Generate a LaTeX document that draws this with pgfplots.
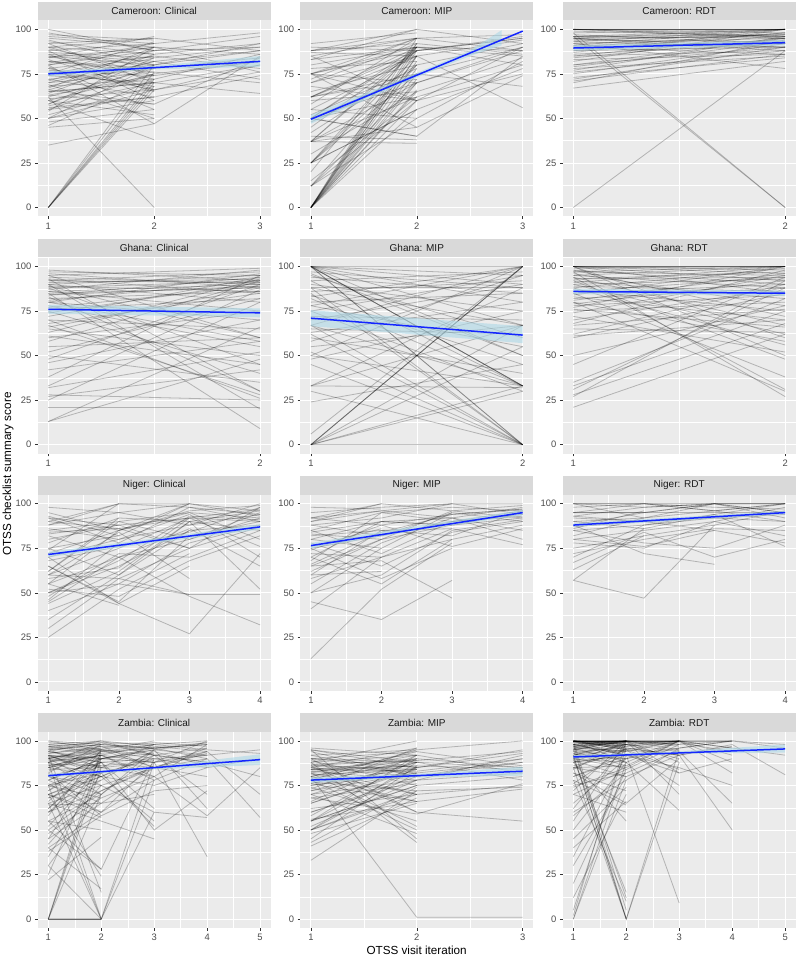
\documentclass[border=0pt]{standalone}
\usepackage{fontspec}
\setmainfont{Liberation Sans}
\usepackage{pgfplots}
\pgfplotsset{compat=1.18}

\definecolor{panelbg}{HTML}{EBEBEB}
\definecolor{stripbg}{HTML}{D9D9D9}
\definecolor{striptxt}{HTML}{1A1A1A}
\definecolor{ticktxt}{HTML}{4D4D4D}
\definecolor{tickcol}{HTML}{333333}
\definecolor{fitblue}{HTML}{1426FF}
\definecolor{bandcol}{HTML}{ADD8E6}

\pgfplotsset{
  panel/.style={
    scale only axis, width=233pt, height=196pt, anchor=north west,
    ymin=-5, ymax=105, ytick={0,25,50,75,100}, minor ytick={12.5,37.5,62.5,87.5},
    axis background/.style={fill=panelbg},
    axis line style={draw=none},
    grid=both,
    major grid style={white, line width=0.8pt},
    minor grid style={white, line width=0.4pt},
    tick pos=left, tick align=outside,
    major tick length=2.75pt, minor tick length=0pt,
    every tick/.style={tickcol, line width=0.5pt},
    tick label style={font=\fontsize{9.4}{10}\selectfont, text=ticktxt},
    /pgf/number format/assume math mode=true,
    every axis title/.style={at={(0.5,1)}, anchor=south, fill=stripbg,
      minimum width=233pt, minimum height=18.5pt, inner sep=0pt,
      font=\fontsize{10}{11}\selectfont, text=striptxt},
  },
  x2/.style={xmin=0.95, xmax=2.05, xtick={1,2}, minor xtick={1.5}},
  x3/.style={xmin=0.9, xmax=3.1, xtick={1,2,3}, minor xtick={1.5,2.5}},
  x4/.style={xmin=0.85, xmax=4.15, xtick={1,2,3,4}, minor xtick={1.5,2.5,3.5}},
  x5/.style={xmin=0.8, xmax=5.2, xtick={1,2,3,4,5}, minor xtick={1.5,2.5,3.5,4.5}},
  sp/.style={black, opacity=0.24, line width=0.8pt},
  fitl/.style={fitblue, line width=1.5pt},
  band/.style={fill=bandcol, draw=none, opacity=0.6},
}

% one facility trajectory over 2, 3, 4 or 5 visits
\newcommand\Pii[2]{\addplot[sp] coordinates {(1,#1)(2,#2)};}
\newcommand\Piii[3]{\addplot[sp] coordinates {(1,#1)(2,#2)(3,#3)};}
\newcommand\Piv[4]{\addplot[sp] coordinates {(1,#1)(2,#2)(3,#3)(4,#4)};}
\newcommand\Pv[5]{\addplot[sp] coordinates {(1,#1)(2,#2)(3,#3)(4,#4)(5,#5)};}
% fitted line from visit 1 to visit #1
\newcommand\Fit[3]{\addplot[fitl] coordinates {(1,#2)(#1,#3)};}
\newcommand\Band[1]{\addplot[band] coordinates {#1};}

\begin{document}
\begin{tikzpicture}
\useasboundingbox (0,0) rectangle (797pt,-958pt);

% ---------------- row 1: Cameroon
\begin{axis}[panel, x3, at={(37.7pt,-20.4pt)}, title={Cameroon: Clinical}]
\Piii{85}{80}{88}\Piii{72}{78}{84}\Piii{90}{86}{92}\Piii{65}{70}{80}\Piii{80}{88}{96}
\Piii{95}{90}{86}\Piii{60}{75}{82}\Piii{78}{66}{76}\Piii{88}{92}{98}\Piii{70}{84}{90}
\Piii{55}{62}{74}\Piii{82}{76}{70}\Piii{92}{95}{88}\Piii{68}{72}{86}\Piii{75}{85}{78}
\Piii{50}{66}{80}\Piii{86}{82}{72}\Piii{63}{58}{84}\Piii{98}{88}{90}\Piii{74}{70}{64}
\Piii{80}{47}{85}\Piii{58}{80}{92}\Piii{84}{90}{76}\Piii{66}{82}{88}\Piii{90}{74}{82}
\Pii{100}{88}\Pii{96}{92}\Pii{94}{80}\Pii{92}{70}\Pii{90}{95}\Pii{88}{60}\Pii{87}{84}
\Pii{85}{72}\Pii{84}{96}\Pii{83}{65}\Pii{82}{78}\Pii{80}{90}\Pii{79}{55}\Pii{78}{85}
\Pii{77}{74}\Pii{76}{68}\Pii{75}{93}\Pii{74}{80}\Pii{72}{62}\Pii{71}{88}\Pii{70}{76}
\Pii{69}{50}\Pii{68}{82}\Pii{67}{90}\Pii{66}{58}\Pii{65}{70}\Pii{64}{86}\Pii{63}{74}
\Pii{62}{78}\Pii{61}{66}\Pii{60}{52}\Pii{58}{84}\Pii{57}{70}\Pii{56}{62}\Pii{55}{75}
\Pii{54}{90}\Pii{52}{68}\Pii{50}{60}\Pii{50}{80}\Pii{48}{55}\Pii{46}{72}\Pii{45}{50}
\Pii{35}{47}\Pii{60}{38}\Pii{0}{72}\Pii{0}{76}\Pii{0}{80}\Pii{0}{70}\Pii{0}{68}
\Pii{0}{66}\Pii{62}{0}\Pii{97}{94}\Pii{93}{86}\Pii{89}{78}\Pii{86}{66}\Pii{81}{92}
\Band{(1,73.5)(2,77.5)(3,79)(3,85)(2,79.5)(1,76.5)}
\Fit{3}{75}{82}
\end{axis}

\begin{axis}[panel, x3, at={(300.3pt,-20.4pt)}, title={Cameroon: MIP}]
\Piii{50}{75}{90}\Piii{62}{88}{95}\Piii{75}{90}{85}\Piii{0}{70}{88}\Piii{25}{80}{92}
\Piii{37}{62}{80}\Piii{88}{95}{97}\Piii{12}{60}{75}\Piii{50}{40}{85}\Piii{62}{85}{56}
\Piii{75}{95}{88}\Piii{0}{85}{94}\Piii{83}{90}{80}\Piii{50}{70}{90}\Piii{37}{88}{95}
\Piii{25}{55}{78}\Piii{62}{75}{68}\Piii{0}{65}{84}\Piii{70}{92}{86}\Piii{12}{50}{82}
\Piii{88}{100}{92}\Piii{50}{88}{96}\Piii{75}{60}{90}\Piii{37}{45}{74}\Piii{25}{90}{88}
\Pii{92}{98}\Pii{90}{88}\Pii{88}{92}\Pii{87}{85}\Pii{85}{95}\Pii{83}{100}\Pii{80}{90}
\Pii{78}{82}\Pii{75}{88}\Pii{75}{70}\Pii{72}{95}\Pii{70}{85}\Pii{68}{60}\Pii{65}{80}
\Pii{62}{90}\Pii{62}{72}\Pii{60}{65}\Pii{58}{95}\Pii{55}{85}\Pii{52}{78}\Pii{50}{90}
\Pii{50}{62}\Pii{50}{40}\Pii{48}{75}\Pii{45}{88}\Pii{42}{80}\Pii{40}{38}\Pii{37}{90}
\Pii{37}{70}\Pii{37}{36}\Pii{30}{65}\Pii{25}{85}\Pii{25}{75}\Pii{25}{55}\Pii{20}{92}
\Pii{15}{62}\Pii{12}{80}\Pii{12}{70}\Pii{0}{95}\Pii{0}{90}\Pii{0}{88}\Pii{0}{82}
\Pii{0}{78}\Pii{0}{72}\Pii{0}{66}\Pii{0}{60}\Pii{0}{92}\Pii{0}{85}\Pii{0}{75}
\Pii{0}{55}\Pii{55}{50}\Pii{85}{60}\Pii{75}{45}
\Band{(1,47)(2,73)(2.5,85)(2.8,91)(2.8,99.5)(2.5,88)(2,75.5)(1,52)}
\Fit{3}{49.5}{99}
\end{axis}

\begin{axis}[panel, x2, at={(562.7pt,-20.4pt)}, title={Cameroon: RDT}]
\Pii{100}{100}\Pii{100}{100}\Pii{100}{100}\Pii{100}{96}\Pii{100}{95}\Pii{98}{100}
\Pii{97}{92}\Pii{96}{100}\Pii{96}{95}\Pii{95}{90}\Pii{95}{88}\Pii{94}{97}\Pii{93}{100}
\Pii{92}{95}\Pii{91}{92}\Pii{90}{86}\Pii{90}{98}\Pii{89}{94}\Pii{88}{90}\Pii{87}{100}
\Pii{86}{92}\Pii{85}{88}\Pii{84}{95}\Pii{83}{86}\Pii{82}{100}\Pii{80}{90}\Pii{79}{93}
\Pii{78}{85}\Pii{77}{96}\Pii{76}{88}\Pii{75}{92}\Pii{73}{84}\Pii{72}{90}\Pii{71}{86}
\Pii{70}{94}\Pii{67}{82}\Pii{92}{78}\Pii{98}{0}\Pii{96}{0}\Pii{0}{88}\Pii{100}{98}
\Pii{99}{96}\Pii{95}{100}\Pii{85}{97}\Pii{88}{98}\Pii{93}{90}\Pii{90}{92}\Pii{80}{95}
\Pii{91}{100}\Pii{96}{97}\Pii{94}{93}\Pii{100}{100}\Pii{95}{96}
\Band{(1,88)(2,91)(2,94)(1,91)}
\Fit{2}{89.5}{92.5}
\end{axis}

% ---------------- row 2: Ghana
\begin{axis}[panel, x2, at={(37.7pt,-257.6pt)}, title={Ghana: Clinical}]
\Pii{98}{92}\Pii{97}{95}\Pii{96}{88}\Pii{95}{99}\Pii{94}{90}\Pii{93}{85}\Pii{92}{97}
\Pii{91}{93}\Pii{90}{80}\Pii{90}{95}\Pii{89}{60}\Pii{88}{92}\Pii{87}{98}\Pii{86}{90}
\Pii{86}{75}\Pii{85}{88}\Pii{84}{94}\Pii{83}{30}\Pii{82}{86}\Pii{81}{92}\Pii{80}{70}
\Pii{80}{96}\Pii{78}{55}\Pii{77}{89}\Pii{76}{82}\Pii{75}{40}\Pii{74}{91}\Pii{72}{94}
\Pii{70}{65}\Pii{68}{85}\Pii{67}{28}\Pii{66}{88}\Pii{65}{50}\Pii{63}{93}\Pii{61}{45}
\Pii{60}{75}\Pii{58}{92}\Pii{55}{60}\Pii{52}{82}\Pii{50}{35}\Pii{48}{90}\Pii{46}{70}
\Pii{42}{58}\Pii{38}{95}\Pii{33}{87}\Pii{32}{52}\Pii{28}{25}\Pii{27}{42}\Pii{25}{80}
\Pii{21}{21}\Pii{13}{48}\Pii{13}{66}\Pii{90}{20}\Pii{85}{9}\Pii{95}{60}\Pii{88}{45}
\Pii{93}{30}\Pii{80}{58}\Pii{70}{26}\Pii{92}{91}\Pii{89}{86}\Pii{84}{89}
\Band{(1,73.5)(2,71.5)(2,76.5)(1,78.5)}
\Fit{2}{76}{74}
\end{axis}

\begin{axis}[panel, x2, at={(300.3pt,-257.6pt)}, title={Ghana: MIP}]
\Pii{100}{33}\Pii{100}{33}\Pii{100}{33}\Pii{100}{100}\Pii{100}{90}\Pii{100}{80}
\Pii{100}{67}\Pii{100}{50}\Pii{100}{0}\Pii{100}{0}\Pii{97}{88}\Pii{95}{60}\Pii{92}{97}
\Pii{90}{75}\Pii{88}{88}\Pii{88}{67}\Pii{88}{0}\Pii{86}{92}\Pii{84}{45}\Pii{83}{100}
\Pii{82}{33}\Pii{80}{85}\Pii{78}{55}\Pii{75}{95}\Pii{75}{30}\Pii{72}{70}\Pii{70}{90}
\Pii{67}{100}\Pii{67}{33}\Pii{67}{0}\Pii{65}{62}\Pii{63}{80}\Pii{60}{40}\Pii{58}{95}
\Pii{55}{67}\Pii{52}{0}\Pii{50}{100}\Pii{50}{33}\Pii{48}{75}\Pii{45}{0}\Pii{33}{32}
\Pii{33}{88}\Pii{33}{67}\Pii{30}{0}\Pii{24}{45}\Pii{6}{100}\Pii{0}{100}\Pii{0}{100}
\Pii{0}{100}\Pii{0}{67}\Pii{0}{33}\Pii{0}{0}\Pii{0}{55}\Pii{0}{30}\Pii{85}{0}
\Pii{92}{33}\Pii{78}{100}\Pii{62}{0}\Pii{96}{50}\Pii{100}{95}\Pii{94}{85}
\Band{(1,66.5)(2,57)(2,66.5)(1,75.5)}
\Fit{2}{71}{61.5}
\end{axis}

\begin{axis}[panel, x2, at={(562.7pt,-257.6pt)}, title={Ghana: RDT}]
\Pii{100}{100}\Pii{100}{100}\Pii{100}{100}\Pii{100}{96}\Pii{100}{92}\Pii{100}{85}
\Pii{100}{60}\Pii{100}{50}\Pii{99}{100}\Pii{98}{90}\Pii{97}{95}\Pii{96}{78}\Pii{95}{100}
\Pii{95}{88}\Pii{94}{67}\Pii{93}{97}\Pii{92}{82}\Pii{91}{100}\Pii{90}{93}\Pii{90}{62}
\Pii{89}{86}\Pii{88}{99}\Pii{87}{75}\Pii{86}{94}\Pii{85}{38}\Pii{85}{90}\Pii{84}{100}
\Pii{83}{70}\Pii{82}{88}\Pii{81}{96}\Pii{80}{58}\Pii{80}{30}\Pii{79}{92}\Pii{78}{84}
\Pii{77}{100}\Pii{76}{66}\Pii{75}{80}\Pii{74}{95}\Pii{72}{52}\Pii{70}{88}\Pii{68}{98}
\Pii{67}{76}\Pii{65}{63}\Pii{62}{90}\Pii{61}{70}\Pii{60}{85}\Pii{50}{78}\Pii{45}{94}
\Pii{35}{82}\Pii{33}{75}\Pii{31}{88}\Pii{28}{68}\Pii{27}{92}\Pii{21}{62}\Pii{97}{27}
\Pii{94}{31}\Pii{92}{48}\Pii{88}{56}\Pii{98}{72}\Pii{100}{98}\Pii{97}{100}\Pii{93}{94}
\Band{(1,84.5)(2,83.5)(2,86.5)(1,87.5)}
\Fit{2}{86}{85}
\end{axis}

% ---------------- row 3: Niger
\begin{axis}[panel, x4, at={(37.7pt,-494.8pt)}, title={Niger: Clinical}]
\Piv{85}{90}{95}{92}\Piv{70}{80}{88}{94}\Piv{60}{75}{92}{90}\Piv{50}{65}{85}{88}
\Piv{90}{100}{100}{96}\Piv{45}{70}{80}{92}\Piv{75}{60}{90}{85}\Piv{80}{88}{75}{98}
\Piv{55}{85}{95}{80}\Piv{65}{45}{82}{90}\Piv{92}{78}{98}{94}\Piv{48}{72}{70}{85}
\Piv{88}{95}{88}{100}\Piv{58}{64}{92}{76}\Piv{72}{85}{100}{93}\Piv{40}{55}{78}{88}
\Piv{82}{70}{86}{65}\Piv{62}{90}{80}{95}\Piv{95}{85}{96}{99}\Piv{52}{48}{68}{82}
\Piv{78}{92}{90}{52}\Piv{68}{76}{84}{98}\Piv{30}{58}{75}{87}\Piv{86}{80}{94}{70}
\Piv{44}{62}{90}{96}\Piv{74}{100}{98}{90}\Piv{60}{58}{49}{49}\Piv{55}{70}{48}{32}
\Piv{65}{44}{27}{72}\Piv{84}{86}{92}{97}\Piv{50}{68}{93}{91}
\Piii{98}{95}{100}\Piii{90}{86}{75}\Piii{70}{44}{65}\Piii{50}{55}{49}\Piii{35}{60}{85}
\Piii{25}{52}{72}\Piii{83}{88}{92}\Piii{60}{84}{58}\Piii{93}{82}{100}
\Pii{88}{100}\Pii{55}{43}\Pii{75}{82}\Pii{62}{92}\Pii{46}{78}\Pii{92}{88}
\Band{(1,70)(2.5,78)(4,85.5)(4,88.5)(2.5,80.5)(1,73)}
\Fit{4}{71.5}{87}
\end{axis}

\begin{axis}[panel, x4, at={(300.3pt,-494.8pt)}, title={Niger: MIP}]
\Piv{85}{95}{98}{96}\Piv{75}{82}{90}{94}\Piv{70}{90}{92}{98}\Piv{65}{80}{88}{95}
\Piv{90}{100}{96}{92}\Piv{80}{75}{95}{90}\Piv{60}{85}{82}{96}\Piv{88}{92}{100}{100}
\Piv{72}{70}{80}{88}\Piv{55}{78}{92}{85}\Piv{92}{88}{94}{97}\Piv{68}{95}{90}{93}
\Piv{82}{85}{86}{77}\Piv{78}{65}{84}{90}\Piv{62}{80}{96}{99}\Piv{95}{98}{100}{94}
\Piv{74}{88}{76}{86}\Piv{85}{72}{90}{96}\Piv{50}{60}{85}{91}\Piv{90}{96}{92}{80}
\Piv{84}{90}{88}{92}\Piv{66}{84}{94}{97}
\Piii{70}{55}{80}\Piii{45}{35}{57}\Piii{13}{52}{78}\Piii{65}{68}{47}\Piii{80}{90}{88}
\Piii{88}{82}{95}\Piii{75}{58}{75}\Piii{92}{96}{100}\Piii{58}{70}{86}
\Pii{98}{97}\Pii{60}{62}\Pii{41}{70}\Pii{50}{75}\Pii{92}{100}\Pii{83}{80}\Pii{76}{86}
\Band{(1,75)(2.5,85)(4,93.5)(4,96.5)(2.5,87.5)(1,78)}
\Fit{4}{76.5}{95}
\end{axis}

\begin{axis}[panel, x4, at={(562.7pt,-494.8pt)}, title={Niger: RDT}]
\Piv{100}{100}{100}{100}\Piv{95}{95}{100}{100}\Piv{100}{98}{100}{95}\Piv{90}{92}{96}{100}
\Piv{85}{88}{92}{90}\Piv{95}{100}{98}{97}\Piv{80}{85}{90}{82}\Piv{88}{95}{100}{92}
\Piv{75}{82}{88}{96}\Piv{92}{90}{85}{78}\Piv{70}{88}{94}{100}\Piv{85}{78}{75}{88}
\Piv{98}{100}{96}{90}\Piv{72}{80}{86}{85}\Piv{67}{84}{70}{80}\Piv{82}{92}{100}{95}
\Piv{90}{86}{94}{76}\Piv{78}{75}{90}{98}\Piv{95}{95}{95}{95}\Piv{100}{100}{96}{100}
\Piv{93}{98}{100}{100}\Piv{87}{90}{92}{94}
\Piii{57}{47}{88}\Piii{88}{72}{66}\Piii{93}{90}{93}\Piii{80}{76}{85}
\Pii{57}{86}\Pii{63}{82}\Pii{100}{92}\Pii{86}{96}
\Band{(1,87)(2.5,90.5)(4,94)(4,96)(2.5,92.5)(1,89)}
\Fit{4}{88}{95}
\end{axis}

% ---------------- row 4: Zambia
\begin{axis}[panel, x5, at={(37.7pt,-732pt)}, title={Zambia: Clinical}]
\Pv{85}{90}{88}{92}{95}\Pv{70}{80}{75}{85}{90}\Pv{90}{95}{92}{88}{80}\Pv{60}{72}{85}{94}{70}
\Pv{95}{98}{96}{90}{57}\Pv{75}{68}{80}{58}{85}\Pv{88}{92}{98}{95}{93}
\Piv{95}{98}{96}{98}\Piv{92}{90}{95}{99}\Piv{88}{95}{90}{92}\Piv{85}{80}{92}{96}
\Piv{90}{85}{88}{100}\Piv{98}{100}{97}{94}\Piv{80}{88}{85}{90}\Piv{75}{82}{90}{85}
\Piv{70}{60}{88}{94}\Piv{93}{96}{99}{97}\Piv{86}{92}{78}{90}\Piv{65}{75}{85}{80}
\Piv{55}{70}{92}{88}\Piv{100}{95}{85}{96}\Piv{82}{58}{72}{75}\Piv{78}{90}{95}{62}
\Piv{60}{85}{80}{98}\Piv{90}{75}{60}{57}\Piv{72}{88}{50}{72}\Piv{45}{65}{85}{93}
\Piv{88}{80}{94}{86}\Piv{94}{100}{92}{70}\Piv{83}{94}{96}{99}\Piv{96}{92}{88}{35}
\Piv{68}{78}{95}{92}\Piv{97}{99}{98}{100}\Piv{91}{93}{96}{98}
\Piii{97}{94}{98}\Piii{92}{88}{90}\Piii{85}{92}{80}\Piii{80}{70}{95}\Piii{75}{88}{62}
\Piii{90}{97}{85}\Piii{65}{55}{45}\Piii{50}{72}{86}\Piii{40}{60}{78}\Piii{95}{85}{98}
\Piii{88}{99}{92}\Piii{70}{82}{52}\Piii{0}{0}{88}\Piii{0}{0}{60}\Piii{30}{0}{78}
\Piii{55}{28}{90}\Piii{85}{95}{100}\Piii{78}{65}{70}\Piii{92}{80}{55}\Piii{62}{90}{96}
\Piii{99}{97}{96}\Piii{94}{90}{93}\Piii{87}{86}{89}
\Pii{100}{98}\Pii{98}{95}\Pii{96}{100}\Pii{94}{88}\Pii{92}{82}\Pii{90}{96}\Pii{88}{70}
\Pii{86}{92}\Pii{84}{85}\Pii{82}{98}\Pii{80}{75}\Pii{78}{90}\Pii{76}{60}\Pii{74}{86}
\Pii{72}{94}\Pii{70}{57}\Pii{68}{80}\Pii{66}{92}\Pii{64}{65}\Pii{62}{88}\Pii{60}{78}
\Pii{58}{95}\Pii{55}{50}\Pii{52}{84}\Pii{48}{68}\Pii{45}{90}\Pii{42}{75}\Pii{38}{58}
\Pii{35}{82}\Pii{30}{70}\Pii{25}{92}\Pii{22}{46}\Pii{0}{0}\Pii{0}{0}\Pii{0}{85}
\Pii{0}{70}\Pii{0}{90}\Pii{0}{95}\Pii{65}{0}\Pii{75}{0}\Pii{88}{0}\Pii{50}{28}
\Pii{40}{17}\Pii{92}{15}\Pii{70}{24}\Pii{97}{93}\Pii{93}{97}\Pii{89}{91}\Pii{91}{86}
\Band{(1,79.5)(3,84)(5,86.5)(5,92.5)(3,85.5)(1,81.5)}
\Fit{5}{80.5}{89.5}
\end{axis}

\begin{axis}[panel, x3, at={(300.3pt,-732pt)}, title={Zambia: MIP}]
\Piii{85}{80}{90}\Piii{80}{90}{85}\Piii{90}{85}{95}\Piii{75}{82}{88}\Piii{70}{78}{92}
\Piii{88}{92}{82}\Piii{55}{75}{80}\Piii{95}{88}{78}\Piii{82}{70}{75}\Piii{65}{85}{93}
\Piii{78}{95}{100}\Piii{92}{80}{88}\Piii{50}{72}{74}\Piii{86}{60}{55}\Piii{72}{88}{85}
\Piii{60}{78}{82}\Piii{84}{83}{90}\Piii{76}{66}{73}\Piii{90}{94}{86}\Piii{68}{59}{76}
\Piii{80}{1}{1}\Piii{87}{89}{94}\Piii{83}{86}{84}
\Pii{96}{92}\Pii{95}{85}\Pii{94}{80}\Pii{92}{95}\Pii{90}{88}\Pii{89}{75}\Pii{88}{100}
\Pii{87}{82}\Pii{86}{90}\Pii{85}{70}\Pii{84}{86}\Pii{83}{78}\Pii{82}{92}\Pii{81}{84}
\Pii{80}{66}\Pii{80}{94}\Pii{79}{88}\Pii{78}{80}\Pii{77}{72}\Pii{76}{90}\Pii{75}{85}
\Pii{74}{55}\Pii{73}{96}\Pii{72}{82}\Pii{70}{88}\Pii{70}{48}\Pii{68}{76}\Pii{66}{92}
\Pii{65}{84}\Pii{62}{70}\Pii{60}{80}\Pii{58}{90}\Pii{56}{66}\Pii{55}{85}\Pii{55}{75}
\Pii{55}{92}\Pii{52}{78}\Pii{50}{82}\Pii{50}{88}\Pii{50}{70}\Pii{48}{65}\Pii{45}{86}
\Pii{43}{74}\Pii{41}{68}\Pii{33}{72}\Pii{95}{45}\Pii{88}{43}\Pii{82}{52}\Pii{90}{60}
\Pii{85}{96}\Pii{78}{50}\Pii{86}{84}\Pii{84}{89}
\Band{(1,76.5)(2,79.5)(3,80.5)(3,85.5)(2,81.5)(1,79.5)}
\Fit{3}{78}{83}
\end{axis}

\begin{axis}[panel, x5, at={(562.7pt,-732pt)}, title={Zambia: RDT}]
\Pv{100}{100}{100}{100}{98}\Pv{95}{98}{100}{96}{92}\Pv{90}{95}{92}{98}{81}\Pv{98}{92}{96}{100}{96}
\Piv{100}{100}{100}{100}\Piv{100}{100}{98}{100}\Piv{96}{100}{100}{92}\Piv{92}{95}{100}{88}
\Piv{100}{98}{94}{65}\Piv{88}{92}{85}{75}\Piv{95}{90}{96}{100}\Piv{100}{96}{92}{50}
\Piv{85}{80}{92}{97}\Piv{98}{100}{82}{90}\Piv{90}{88}{100}{82}\Piv{100}{100}{100}{96}
\Piv{97}{99}{100}{100}\Piv{93}{97}{99}{94}
\Piii{100}{100}{100}\Piii{100}{100}{100}\Piii{100}{98}{100}\Piii{98}{100}{95}
\Piii{96}{94}{100}\Piii{95}{100}{88}\Piii{92}{98}{90}\Piii{90}{85}{100}\Piii{88}{92}{82}
\Piii{85}{95}{75}\Piii{80}{90}{100}\Piii{100}{88}{61}\Piii{100}{96}{92}\Piii{75}{82}{95}
\Piii{96}{100}{70}\Piii{100}{92}{9}\Piii{98}{0}{88}\Piii{92}{0}{95}\Piii{100}{95}{84}
\Piii{70}{84}{98}\Piii{60}{78}{96}\Piii{82}{65}{90}\Piii{94}{86}{100}\Piii{100}{100}{97}
\Piii{99}{97}{100}\Piii{97}{100}{98}
\Pii{100}{100}\Pii{100}{100}\Pii{100}{100}\Pii{100}{98}\Pii{100}{95}\Pii{99}{100}
\Pii{98}{92}\Pii{97}{100}\Pii{96}{88}\Pii{95}{100}\Pii{94}{96}\Pii{93}{84}\Pii{92}{100}
\Pii{91}{90}\Pii{90}{98}\Pii{89}{80}\Pii{88}{100}\Pii{86}{94}\Pii{85}{86}\Pii{84}{100}
\Pii{82}{72}\Pii{80}{92}\Pii{78}{64}\Pii{76}{96}\Pii{74}{85}\Pii{72}{100}\Pii{70}{60}
\Pii{65}{90}\Pii{62}{98}\Pii{58}{82}\Pii{55}{100}\Pii{50}{88}\Pii{45}{74}\Pii{40}{66}
\Pii{35}{92}\Pii{30}{80}\Pii{20}{84}\Pii{12}{70}\Pii{5}{96}\Pii{2}{100}\Pii{0}{88}
\Pii{0}{78}\Pii{100}{5}\Pii{95}{12}\Pii{90}{15}\Pii{88}{55}\Pii{92}{0}\Pii{85}{0}
\Pii{78}{10}\Pii{100}{97}\Pii{98}{100}\Pii{97}{94}\Pii{100}{99}
\Band{(1,90)(3,92.8)(5,93.5)(5,98)(3,94.2)(1,92)}
\Fit{5}{91}{95.5}
\end{axis}

\node[rotate=90, font=\fontsize{11.7}{13}\selectfont] at (8pt,-474pt) {OTSS checklist summary score};
\node[font=\fontsize{11.7}{13}\selectfont] at (416.6pt,-950pt) {OTSS visit iteration};
\end{tikzpicture}
\end{document}
